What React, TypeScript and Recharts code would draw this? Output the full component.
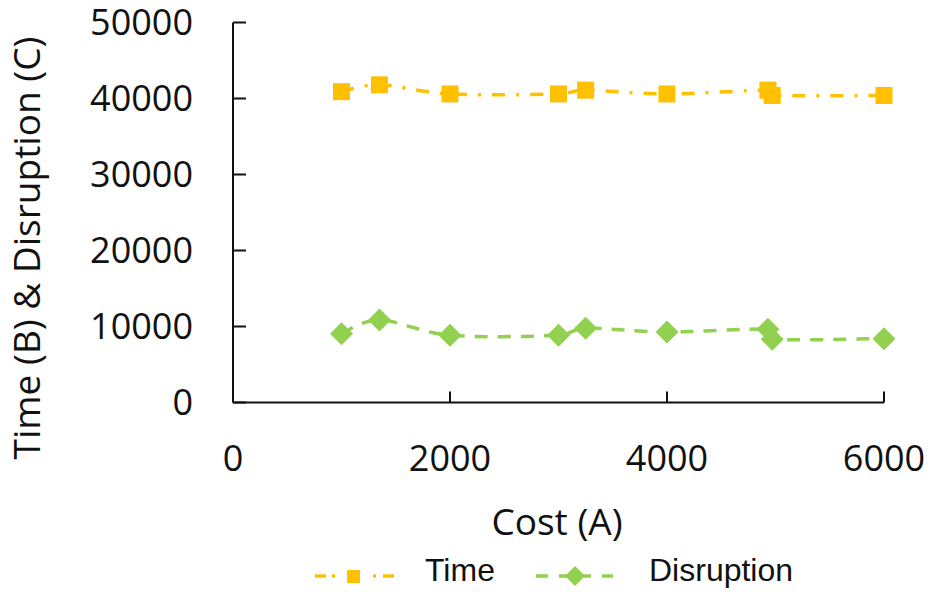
import { LineChart, Line, XAxis, YAxis, Legend } from 'recharts';

const costs = [1000, 1350, 2000, 3000, 3250, 4000, 4930, 4970, 6000];
const timeValues = [40900, 41800, 40600, 40600, 41100, 40600, 41100, 40400, 40400];
const disruptionValues = [9060, 10860, 8850, 8850, 9770, 9280, 9640, 8320, 8400];
const xTicks = [0, 2000, 4000, 6000];
const yTicks = [0, 10000, 20000, 30000, 40000, 50000];

const TIME_COLOR = '#FFC000';
const DISRUPTION_COLOR = '#92D050';
const AXIS_COLOR = '#111';
const FONT = '"Open Sans", sans-serif';

const data = costs.map((cost, i) => ({
  cost,
  time: timeValues[i],
  disruption: disruptionValues[i],
}));

// Excel-style smoothing: Catmull-Rom bezier with control points clamped to half the segment
function excelSmooth(context: any) {
  let pts: number[][] = [];
  return {
    areaStart() {},
    areaEnd() {},
    lineStart() {
      pts = [];
    },
    point(x: number, y: number) {
      pts.push([+x, +y]);
    },
    lineEnd() {
      const n = pts.length;
      if (!n) return;
      context.moveTo(pts[0][0], pts[0][1]);
      for (let i = 0; i < n - 1; i++) {
        const p0 = pts[Math.max(i - 1, 0)];
        const p1 = pts[i];
        const p2 = pts[i + 1];
        const p3 = pts[Math.min(i + 2, n - 1)];
        const d12 = Math.hypot(p2[0] - p1[0], p2[1] - p1[1]);
        const d02 = Math.hypot(p2[0] - p0[0], p2[1] - p0[1]);
        const d13 = Math.hypot(p3[0] - p1[0], p3[1] - p1[1]);
        let f0 = 1 / 6;
        let f1 = 1 / 6;
        if (d02 / 6 > d12 / 2 && d02 > 0) f0 = d12 / 2 / d02;
        if (d13 / 6 > d12 / 2 && d13 > 0) f1 = d12 / 2 / d13;
        context.bezierCurveTo(
          p1[0] + f0 * (p2[0] - p0[0]),
          p1[1] + f0 * (p2[1] - p0[1]),
          p2[0] - f1 * (p3[0] - p1[0]),
          p2[1] - f1 * (p3[1] - p1[1]),
          p2[0],
          p2[1]
        );
      }
    },
  };
}

const squareDot = (props: any) => {
  const { cx, cy, index } = props;
  if (cx == null || cy == null) return <g key={`t-${index}`} />;
  return <rect key={`t-${index}`} x={cx - 8.5} y={cy - 8.5} width={17} height={17} fill={TIME_COLOR} />;
};

const diamondDot = (props: any) => {
  const { cx, cy, index } = props;
  if (cx == null || cy == null) return <g key={`d-${index}`} />;
  const r = 11.5;
  return (
    <polygon
      key={`d-${index}`}
      points={`${cx},${cy - r} ${cx + r},${cy} ${cx},${cy + r} ${cx - r},${cy}`}
      fill={DISRUPTION_COLOR}
    />
  );
};

const legendContent = () => (
  <svg width={931} height={50} style={{ display: 'block' }}>
    {/* Time */}
    <g stroke={TIME_COLOR} strokeWidth={3.5}>
      <line x1={315} y1={32} x2={326} y2={32} />
      <line x1={332} y1={32} x2={335} y2={32} />
      <line x1={373} y1={32} x2={376} y2={32} />
      <line x1={383} y1={32} x2={394} y2={32} />
    </g>
    <rect x={347} y={26} width={13} height={13} fill={TIME_COLOR} />
    <text x={425} y={37} fontFamily='"Liberation Sans", Arial, sans-serif' fontSize={32} fill="#111">
      Time
    </text>
    {/* Disruption */}
    <g stroke={DISRUPTION_COLOR} strokeWidth={3.5}>
      <line x1={536} y1={32} x2={548} y2={32} />
      <line x1={559} y1={32} x2={591} y2={32} />
      <line x1={602} y1={32} x2={613} y2={32} />
    </g>
    <polygon points="575,22 585,32 575,42 565,32" fill={DISRUPTION_COLOR} />
    <text x={649} y={37} fontFamily='"Liberation Sans", Arial, sans-serif' fontSize={32} fill="#111">
      Disruption
    </text>
  </svg>
);

export default function App() {
  const tickStyle = { fontSize: 36, fontFamily: FONT, fill: AXIS_COLOR };
  return (
    <div style={{ position: 'absolute', left: 0, top: 0, background: '#fff' }}>
      <LineChart width={931} height={594} data={data} margin={{ top: 22.5, right: 47, bottom: 0, left: 0 }}>
        <XAxis
          dataKey="cost"
          type="number"
          domain={[0, 6000]}
          ticks={xTicks}
          height={141.5}
          tick={tickStyle}
          tickSize={-11}
          tickMargin={53.5}
          axisLine={{ stroke: AXIS_COLOR, strokeWidth: 2 }}
          tickLine={{ stroke: AXIS_COLOR, strokeWidth: 2 }}
          label={{
            content: () => (
              <text x={557} y={535} textAnchor="middle" fontFamily={FONT} fontSize={37} fill={AXIS_COLOR}>
                Cost (A)
              </text>
            ),
          }}
        />
        <YAxis
          type="number"
          domain={[0, 50000]}
          ticks={yTicks}
          width={233}
          tick={tickStyle}
          tickSize={-13}
          tickMargin={53}
          axisLine={{ stroke: AXIS_COLOR, strokeWidth: 2 }}
          tickLine={{ stroke: AXIS_COLOR, strokeWidth: 2 }}
          label={{
            content: () => (
              <text
                x={40}
                y={248}
                transform="rotate(-90 40 248)"
                textAnchor="middle"
                fontFamily={FONT}
                fontSize={37}
                fill={AXIS_COLOR}
              >
                Time (B) &amp; Disruption (C)
              </text>
            ),
          }}
        />
        <Legend verticalAlign="bottom" height={50} content={legendContent} wrapperStyle={{ left: 0, width: 931 }} />
        <Line
          dataKey="time"
          name="Time"
          type={excelSmooth as any}
          stroke={TIME_COLOR}
          strokeWidth={3.5}
          strokeDasharray="13 11 3 11"
          dot={squareDot}
          activeDot={false}
          isAnimationActive={false}
        />
        <Line
          dataKey="disruption"
          name="Disruption"
          type={excelSmooth as any}
          stroke={DISRUPTION_COLOR}
          strokeWidth={3.5}
          strokeDasharray="13 10"
          dot={diamondDot}
          activeDot={false}
          isAnimationActive={false}
        />
      </LineChart>
    </div>
  );
}
